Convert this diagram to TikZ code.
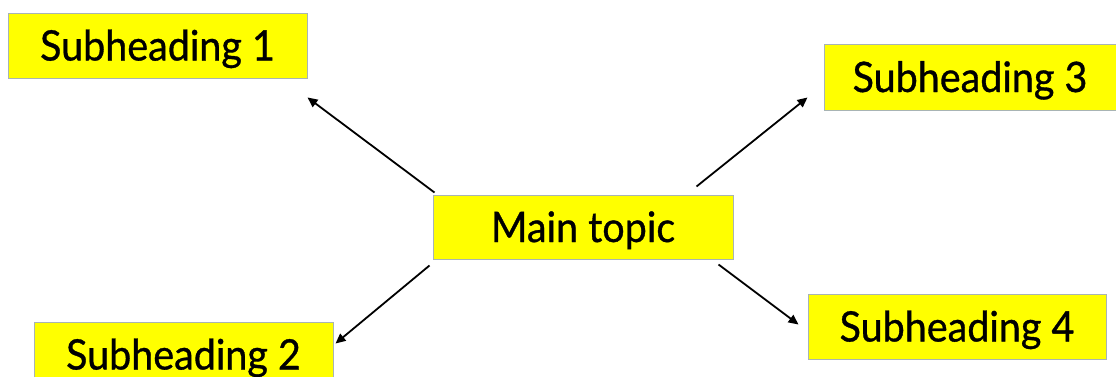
\documentclass[tikz,border=0pt]{standalone}
\usepackage{fontspec}
\setmainfont[FakeStretch=0.94,FakeBold=0.8]{Lato}
\usetikzlibrary{arrows.meta}
\definecolor{boxfill}{HTML}{FFFF00}
\definecolor{boxline}{HTML}{A8B4B4}
\tikzset{
  topicbox/.style={draw=boxline, line width=1pt, fill=boxfill, inner sep=0pt,
    font=\fontsize{42}{50}\selectfont, text=black,
    text height=30pt, text depth=0pt},
  link/.style={line width=1.8pt, -{Triangle[length=10pt,width=9pt]}}
}
\begin{document}
\begin{tikzpicture}[x=1pt,y=1pt]
  \useasboundingbox (0,0) rectangle (1116,376);
  % boxes: centre and size in points
  \node[topicbox, minimum width=299pt, minimum height=65pt] (s1) at (157.5,330.5) {Subheading 1};
  \node[topicbox, minimum width=300pt, minimum height=64pt] (main) at (583,149) {Main topic};
  \node[topicbox, minimum width=292pt, minimum height=66pt] (s3) at (970,299) {Subheading 3};
  \node[topicbox, minimum width=299pt, minimum height=65pt] (s2) at (183.5,21.5) {Subheading 2};
  \node[topicbox, minimum width=298pt, minimum height=65pt] (s4) at (957,49.5) {Subheading 4};
  % connectors from the main topic outwards
  \draw[link] ([shift={(2,2)}]main.north west) -- ([shift={(0,-19)}]s1.south east);
  \draw[link] ([shift={(-37,8)}]main.north east) -- ([shift={(-16,13)}]s3.south west);
  \draw[link] ([shift={(-3,-6)}]main.south west) -- ([shift={(2,-22)}]s2.north east);
  \draw[link] ([shift={(-15,-5)}]main.south east) -- ([shift={(-9,-31)}]s4.north west);
\end{tikzpicture}
\end{document}
